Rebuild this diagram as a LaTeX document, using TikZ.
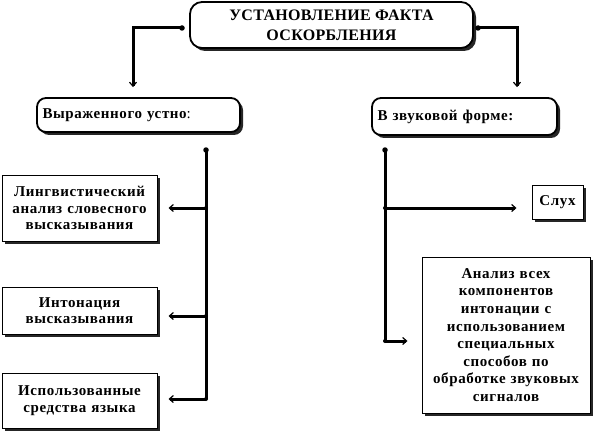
\documentclass[tikz,border=0pt]{standalone}
\usepackage{fontspec}
\setmainfont{Liberation Serif}[LetterSpace=4]
\newfontfamily\titlefont{Liberation Serif}[LetterSpace=2]
\usetikzlibrary{arrows.meta,shadows}
\begin{document}
\begin{tikzpicture}[x=1pt,y=-1pt,
 box/.style={draw, line width=1pt, fill=white,
   drop shadow={shadow xshift=3pt,shadow yshift=-3pt,fill=black!85,opacity=1},
   font=\bfseries\fontsize{15}{16.5}\selectfont, align=center, inner sep=0pt},
 conn/.style={line width=3pt},
 arr/.style={conn,-{Straight Barb[length=4pt,width=7pt,line width=1.2pt]}},
 dot/.style={circle, fill, inner sep=0pt, minimum size=5.5pt}]
\useasboundingbox (0,0) rectangle (594,433);
% boxes
\node[box, rounded corners=12pt, line width=1.8pt, minimum width=283pt, minimum height=46pt,
  font=\titlefont\bfseries\fontsize{16}{20}\selectfont] (top) at (331.5,25) {УСТАНОВЛЕНИЕ ФАКТА\\ОСКОРБЛЕНИЯ};
\node[box, rounded corners=9pt, line width=1.8pt, minimum width=203pt, minimum height=34pt,
  text width=192pt, align=left] (oral) at (138.5,115) {Выраженного устно\mdseries:};
\node[box, rounded corners=9pt, line width=1.8pt, minimum width=185pt, minimum height=37pt,
  text width=174pt, align=left] (sound) at (464.5,116.5) {В звуковой форме:};
\node[box, minimum width=155pt, minimum height=66pt, text width=153pt] (ling) at (79.5,208)
  {Лингвистический\\анализ словесного\\высказывания};
\node[box, minimum width=155pt, minimum height=47pt, text width=153pt] (inton) at (79.5,310.5)
  {Интонация\\высказывания};
\node[box, minimum width=155pt, minimum height=55pt, text width=153pt] (used) at (79.5,400.5)
  {Использованные\\средства языка};
\node[box, minimum width=51pt, minimum height=34pt, text width=48pt] (hear) at (557.5,202) {Слух};
\node[box, minimum width=168pt, minimum height=156pt, text width=166pt,
  font=\bfseries\fontsize{15}{17.6}\selectfont] (anal) at (506,335)
  {Анализ всех\\компонентов\\интонации с\\использованием\\специальных\\способов по\\обработке звуковых\\сигналов};
% junction coordinates
\coordinate (tl) at (182,28);
\coordinate (tr) at (478,28);
\coordinate (tla) at (oral.north -| 133,0);
\coordinate (tra) at (sound.north -| 517,0);
\coordinate (lv0) at (206,150);
\coordinate (lv1) at (206,208);
\coordinate (lv2) at (206,316);
\coordinate (lv3) at (206,399);
\coordinate (rv0) at (385,150);
\coordinate (rv1) at (385,208);
\coordinate (rv2) at (385,341);
% connectors
\draw[arr, shorten >=10pt] (tl) -| (tla);
\draw[arr, shorten >=10pt] (tr) -| (tra);
\draw[conn] (lv0) -- (lv3);
\draw[arr, shorten >=11pt] (lv1) -- (lv1 -| ling.east);
\draw[arr, shorten >=11pt] (lv2) -- (lv2 -| inton.east);
\draw[arr, shorten >=11pt] (lv3) -- (lv3 -| used.east);
\draw[conn] (rv0) -- (rv2);
\draw[arr, shorten >=15pt] (rv1) -- (rv1 -| hear.west);
\draw[arr, shorten >=14pt] (rv2) -- (rv2 -| anal.west);
% dots
\foreach \p in {tl,tr,lv0,rv0}{\node[dot] at (\p) {};}
\foreach \p in {lv1,lv2,lv3,rv1,rv2}{\node[dot, minimum size=4pt] at (\p) {};}
\end{tikzpicture}
\end{document}
